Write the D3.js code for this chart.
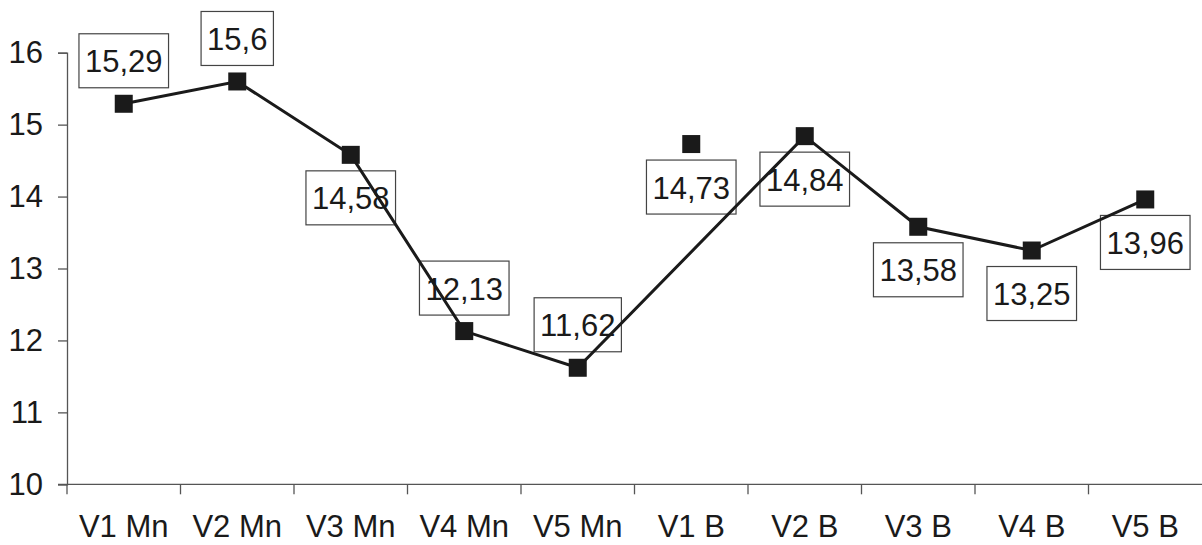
<!DOCTYPE html>
<html>
<head>
<meta charset="utf-8">
<script src="https://cdn.jsdelivr.net/npm/d3@7"></script>
<style>
  html, body { margin: 0; padding: 0; background: #fff; }
  svg { display: block; font-family: "Liberation Sans", Arial, sans-serif; }
</style>
</head>
<body>
<svg id="chart" width="1202" height="545"></svg>
<script>
const categories = ["V1 Mn", "V2 Mn", "V3 Mn", "V4 Mn", "V5 Mn", "V1 B", "V2 B", "V3 B", "V4 B", "V5 B"];
// main connected series (V1 B is a separate, unconnected point)
const lineValues = [15.29, 15.6, 14.58, 12.13, 11.62, null, 14.84, 13.58, 13.25, 13.96];
const pointValues = [null, null, null, null, null, 14.73, null, null, null, null];
const labelPlacement = ["above", "above", "below", "above", "above", "below", "below", "below", "below", "below"];
const yTicks = [10, 11, 12, 13, 14, 15, 16];

const svg = d3.select("#chart");
const x = d3.scaleBand().domain(categories).range([67, 1202]).padding(0);
const y = d3.scaleLinear().domain([10, 16]).range([484.3, 52.7]);
const ink = "#1a1a1a";
const axisCol = "#555";

// Y axis
const yAxis = svg.append("g").attr("transform", "translate(67,0)")
  .call(d3.axisLeft(y).tickValues(yTicks).tickSize(9).tickPadding(15).tickFormat(d3.format("d")));
yAxis.select(".domain").attr("stroke", axisCol).attr("stroke-width", 1.3);
yAxis.selectAll(".tick line").attr("stroke", axisCol).attr("stroke-width", 1.3);
yAxis.selectAll(".tick text").attr("fill", ink).style("font-size", "31px")
  .style("font-family", "'Liberation Sans', Arial, sans-serif");

// X axis (ticks at category boundaries)
const xg = svg.append("g").attr("transform", "translate(0,484.3)");
xg.append("line").attr("x1", 58).attr("x2", 1202).attr("y1", 0).attr("y2", 0)
  .attr("stroke", axisCol).attr("stroke-width", 1.3);
xg.selectAll("line.tk").data(categories).join("line").attr("class", "tk")
  .attr("x1", d => x(d)).attr("x2", d => x(d)).attr("y1", 0).attr("y2", 10)
  .attr("stroke", axisCol).attr("stroke-width", 1.3);
xg.selectAll("text").data(categories).join("text")
  .attr("x", d => x(d) + x.bandwidth() / 2).attr("y", 52.5)
  .attr("text-anchor", "middle").attr("fill", ink).style("font-size", "31px").text(d => d);

const fmt = v => String(v).replace(".", ",");

// labels (boxes)
const allPts = categories.map((c, i) => ({ c, i, v: lineValues[i] != null ? lineValues[i] : pointValues[i] }));
const lg = svg.append("g");
allPts.forEach(p => {
  const cx = x(p.c) + x.bandwidth() / 2;
  const py = y(p.v);
  const cy = labelPlacement[p.i] === "above" ? py - 43 : py + 43;
  const t = lg.append("text").attr("x", cx).attr("y", cy + 11.5)
    .attr("text-anchor", "middle").attr("fill", ink).style("font-size", "31px").text(fmt(p.v));
  const w = t.node().getComputedTextLength() + 12;
  lg.insert("rect", "text").attr("x", cx - w / 2).attr("y", cy - 27).attr("width", w).attr("height", 54)
    .attr("fill", "none").attr("stroke", "#444").attr("stroke-width", 1.2);
});

// line
const linePts = categories.map((c, i) => ({ c, v: lineValues[i] })).filter(d => d.v != null);
svg.append("path").datum(linePts)
  .attr("d", d3.line().x(d => x(d.c) + x.bandwidth() / 2).y(d => y(d.v)))
  .attr("fill", "none").attr("stroke", ink).attr("stroke-width", 3);

// markers
const ms = 18;
svg.selectAll("rect.mk").data(allPts).join("rect").attr("class", "mk")
  .attr("x", d => x(d.c) + x.bandwidth() / 2 - ms / 2).attr("y", d => y(d.v) - ms / 2)
  .attr("width", ms).attr("height", ms).attr("fill", ink);
</script>
</body>
</html>
